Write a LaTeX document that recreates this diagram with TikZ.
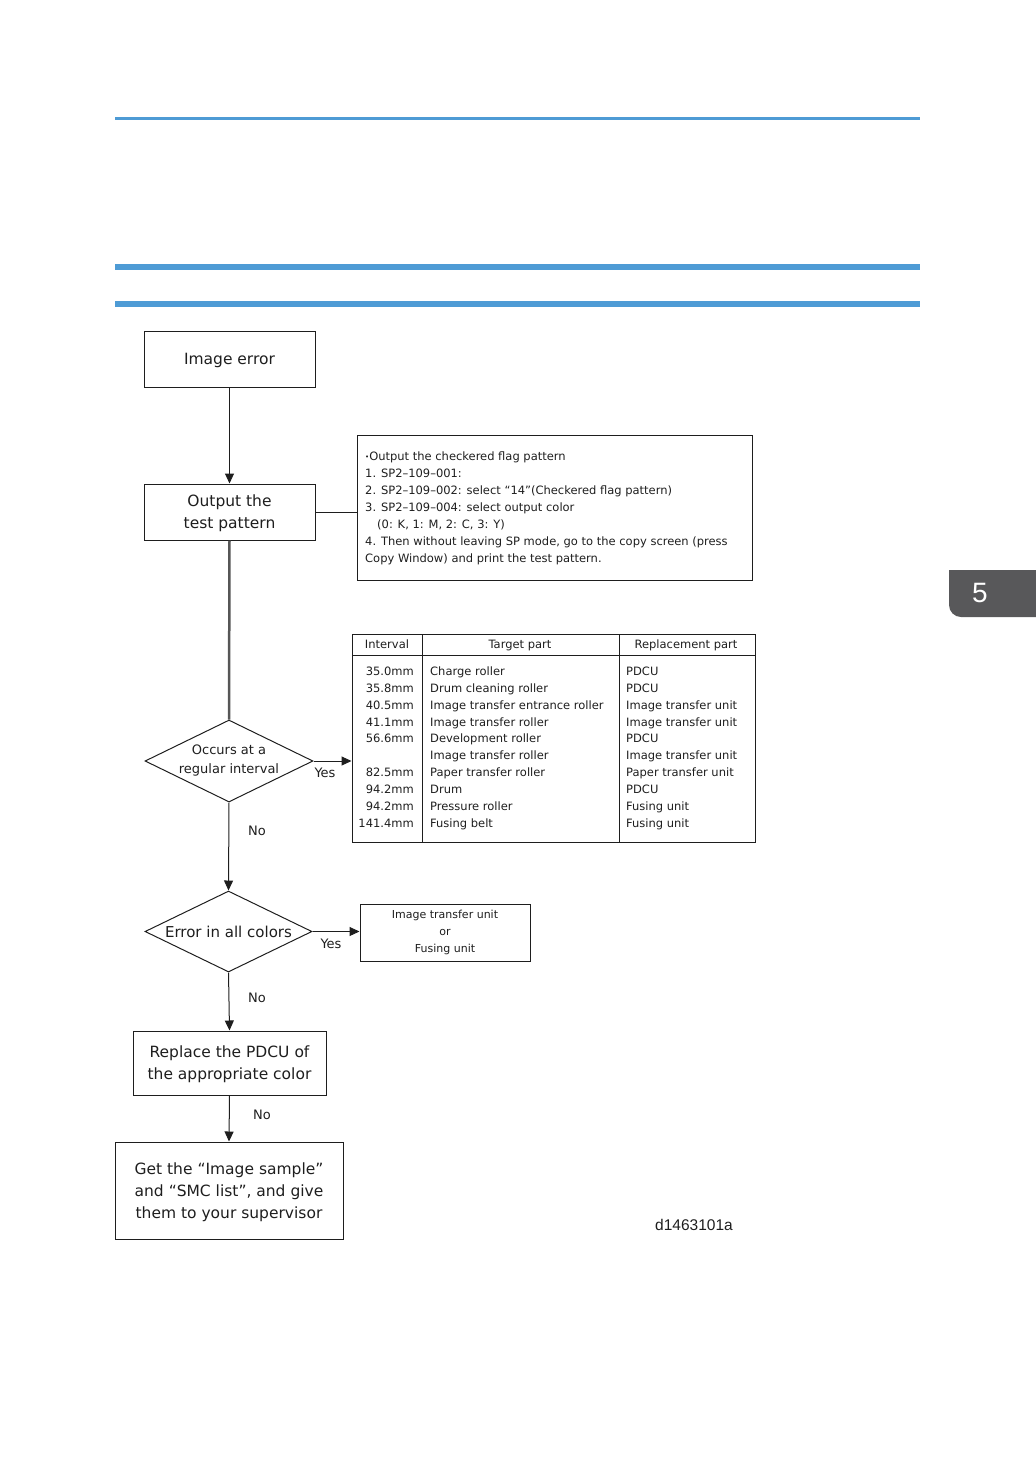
\documentclass[tikz,border=0pt]{standalone}
\usepackage{fontspec}
\setmainfont{DejaVu Sans}
\newfontfamily\arialf{Liberation Sans}
\usetikzlibrary{shapes.geometric,arrows.meta,calc}
\definecolor{hdrblue}{RGB}{78,155,213}
\definecolor{tabgray}{RGB}{88,88,90}
\definecolor{ink}{RGB}{30,30,30}
\begin{document}
\begin{tikzpicture}[x=1pt,y=-1pt,
  box/.style={draw=ink, line width=1pt, inner sep=0pt, align=center, text=ink, text depth=0pt, font=\fontsize{15.5}{22}\selectfont},
  dia/.style={draw=ink, line width=1pt, diamond, inner sep=0pt, aspect=2, align=center, text=ink},
  arr/.style={draw=ink, line width=1pt, -{Triangle[length=10pt,width=9pt]}},
  lbl/.style={font=\fontsize{13}{15}\selectfont, text=ink, inner sep=0pt},
  small/.style={font=\fontsize{11.5}{17}\selectfont, text=ink, inner sep=0pt},
]
\useasboundingbox (0,0) rectangle (1036,1470);

% header rules
\draw[hdrblue, line width=3pt] (115,118) -- (920,118);
\draw[hdrblue, line width=6pt] (115,267) -- (920,267);
\draw[hdrblue, line width=6pt] (115,304) -- (920,304);

% chapter tab
\begin{scope}
\clip (949,570) rectangle (1036,617);
\fill[tabgray, rounded corners=12pt] (949,540) rectangle (1060,617);
\end{scope}
\node[text=white, font=\arialf\fontsize{28}{30}\selectfont, inner sep=0pt] (tab) at (980,593) {5};

% flow nodes
\node[box, minimum width=171, minimum height=56] (err) at (229.5,359) {Image error};
\node[box, minimum width=171, minimum height=56] (out) at (229.5,512) {Output the\\test pattern};

\node[draw=ink, line width=1pt, minimum width=395, minimum height=145, inner sep=0pt] (info) at (554.5,507.5) {};
\node[small, anchor=west, align=left] (infot) at (365,508) {%
\raisebox{0.5pt}{\scalebox{0.6}{•}}Output the checkered flag pattern\\
1. SP2–109–001:\\
2. SP2–109–002: select “14”(Checkered flag pattern)\\
3. SP2–109–004: select output color\\
\hspace*{12pt}(0: K, 1: M, 2: C, 3: Y)\\
4. Then without leaving SP mode, go to the copy screen (press\\
Copy Window) and print the test pattern.};

% table
\node[draw=ink, line width=1pt, minimum width=403, minimum height=208, inner sep=0pt] (tbl) at (553.5,738) {};
\draw[ink, line width=1pt] (352,655) -- (755,655);
\draw[ink, line width=1pt] (422,634) -- (422,842);
\draw[ink, line width=1pt] (619,634) -- (619,842);
\node[small, anchor=base] (h1) at (387,648) {Interval};
\node[small, anchor=base] (h2) at (520,648) {Target part};
\node[small, anchor=base] (h3) at (686,648) {Replacement part};
\foreach \y/\a/\b/\c [count=\i] in {
  671/35.0mm/Charge roller/PDCU,
  688/35.8mm/Drum cleaning roller/PDCU,
  705/40.5mm/Image transfer entrance roller/Image transfer unit,
  722/41.1mm/Image transfer roller/Image transfer unit,
  738/56.6mm/Development roller/PDCU,
  755/{}/Image transfer roller/Image transfer unit,
  772/82.5mm/Paper transfer roller/Paper transfer unit,
  789/94.2mm/Drum/PDCU,
  806/94.2mm/Pressure roller/Fusing unit,
  823/141.4mm/Fusing belt/Fusing unit}{
  \node[small, anchor=base east] (ia\i) at (414,\y+4.5) {\a};
  \node[small, anchor=base west] (ib\i) at (430,\y+4.5) {\b};
  \node[small, anchor=base west] (ic\i) at (626,\y+4.5) {\c};
}

\node[dia, minimum width=168, minimum height=82, font=\fontsize{13}{19}\selectfont] (d1) at (229,761) {Occurs at a\\regular interval};
\node[dia, minimum width=167, minimum height=81, font=\fontsize{15}{18}\selectfont] (d2) at (228.5,931.5) {Error in all colors};
\node[draw=ink, line width=1pt, minimum width=170, minimum height=57, inner sep=0pt, align=center, text=ink, font=\fontsize{11}{17}\selectfont] (tu) at (445,932.5) {Image transfer unit\\or\\Fusing unit};
\node[box, minimum width=193, minimum height=64] (rep) at (229.5,1063) {Replace the PDCU of\\the appropriate color};
\node[box, minimum width=228, minimum height=97] (get) at (229,1190.5) {Get the “Image sample”\\and “SMC list”, and give\\them to your supervisor};

% connectors
\draw[arr] (err) -- (out);
\draw[ink, line width=1pt] (out.east) -- (out.east -| info.west);
\draw[ink!75, line width=2.5pt] (out.south) -- (d1.north);
\draw[arr] (d1.east) -- (d1.east -| tbl.west);
\draw[arr] (d1.south) -- (d2.north);
\draw[arr] (d2.east) -- (d2.east -| tu.west);
\draw[arr] (d2.south) -- (rep.north);
\draw[arr] (rep.south) -- (get.north);

% labels
\node[lbl] (y1) at (325,773) {Yes};
\node[lbl] (y2) at (331,944) {Yes};
\node[lbl] (n1) at (257,831) {No};
\node[lbl] (n2) at (257,998) {No};
\node[lbl] (n3) at (262,1115) {No};

\node[font=\arialf\fontsize{15.5}{18}\selectfont, text=ink, inner sep=0pt] (fig) at (694,1225) {d1463101a};
\end{tikzpicture}
\end{document}
